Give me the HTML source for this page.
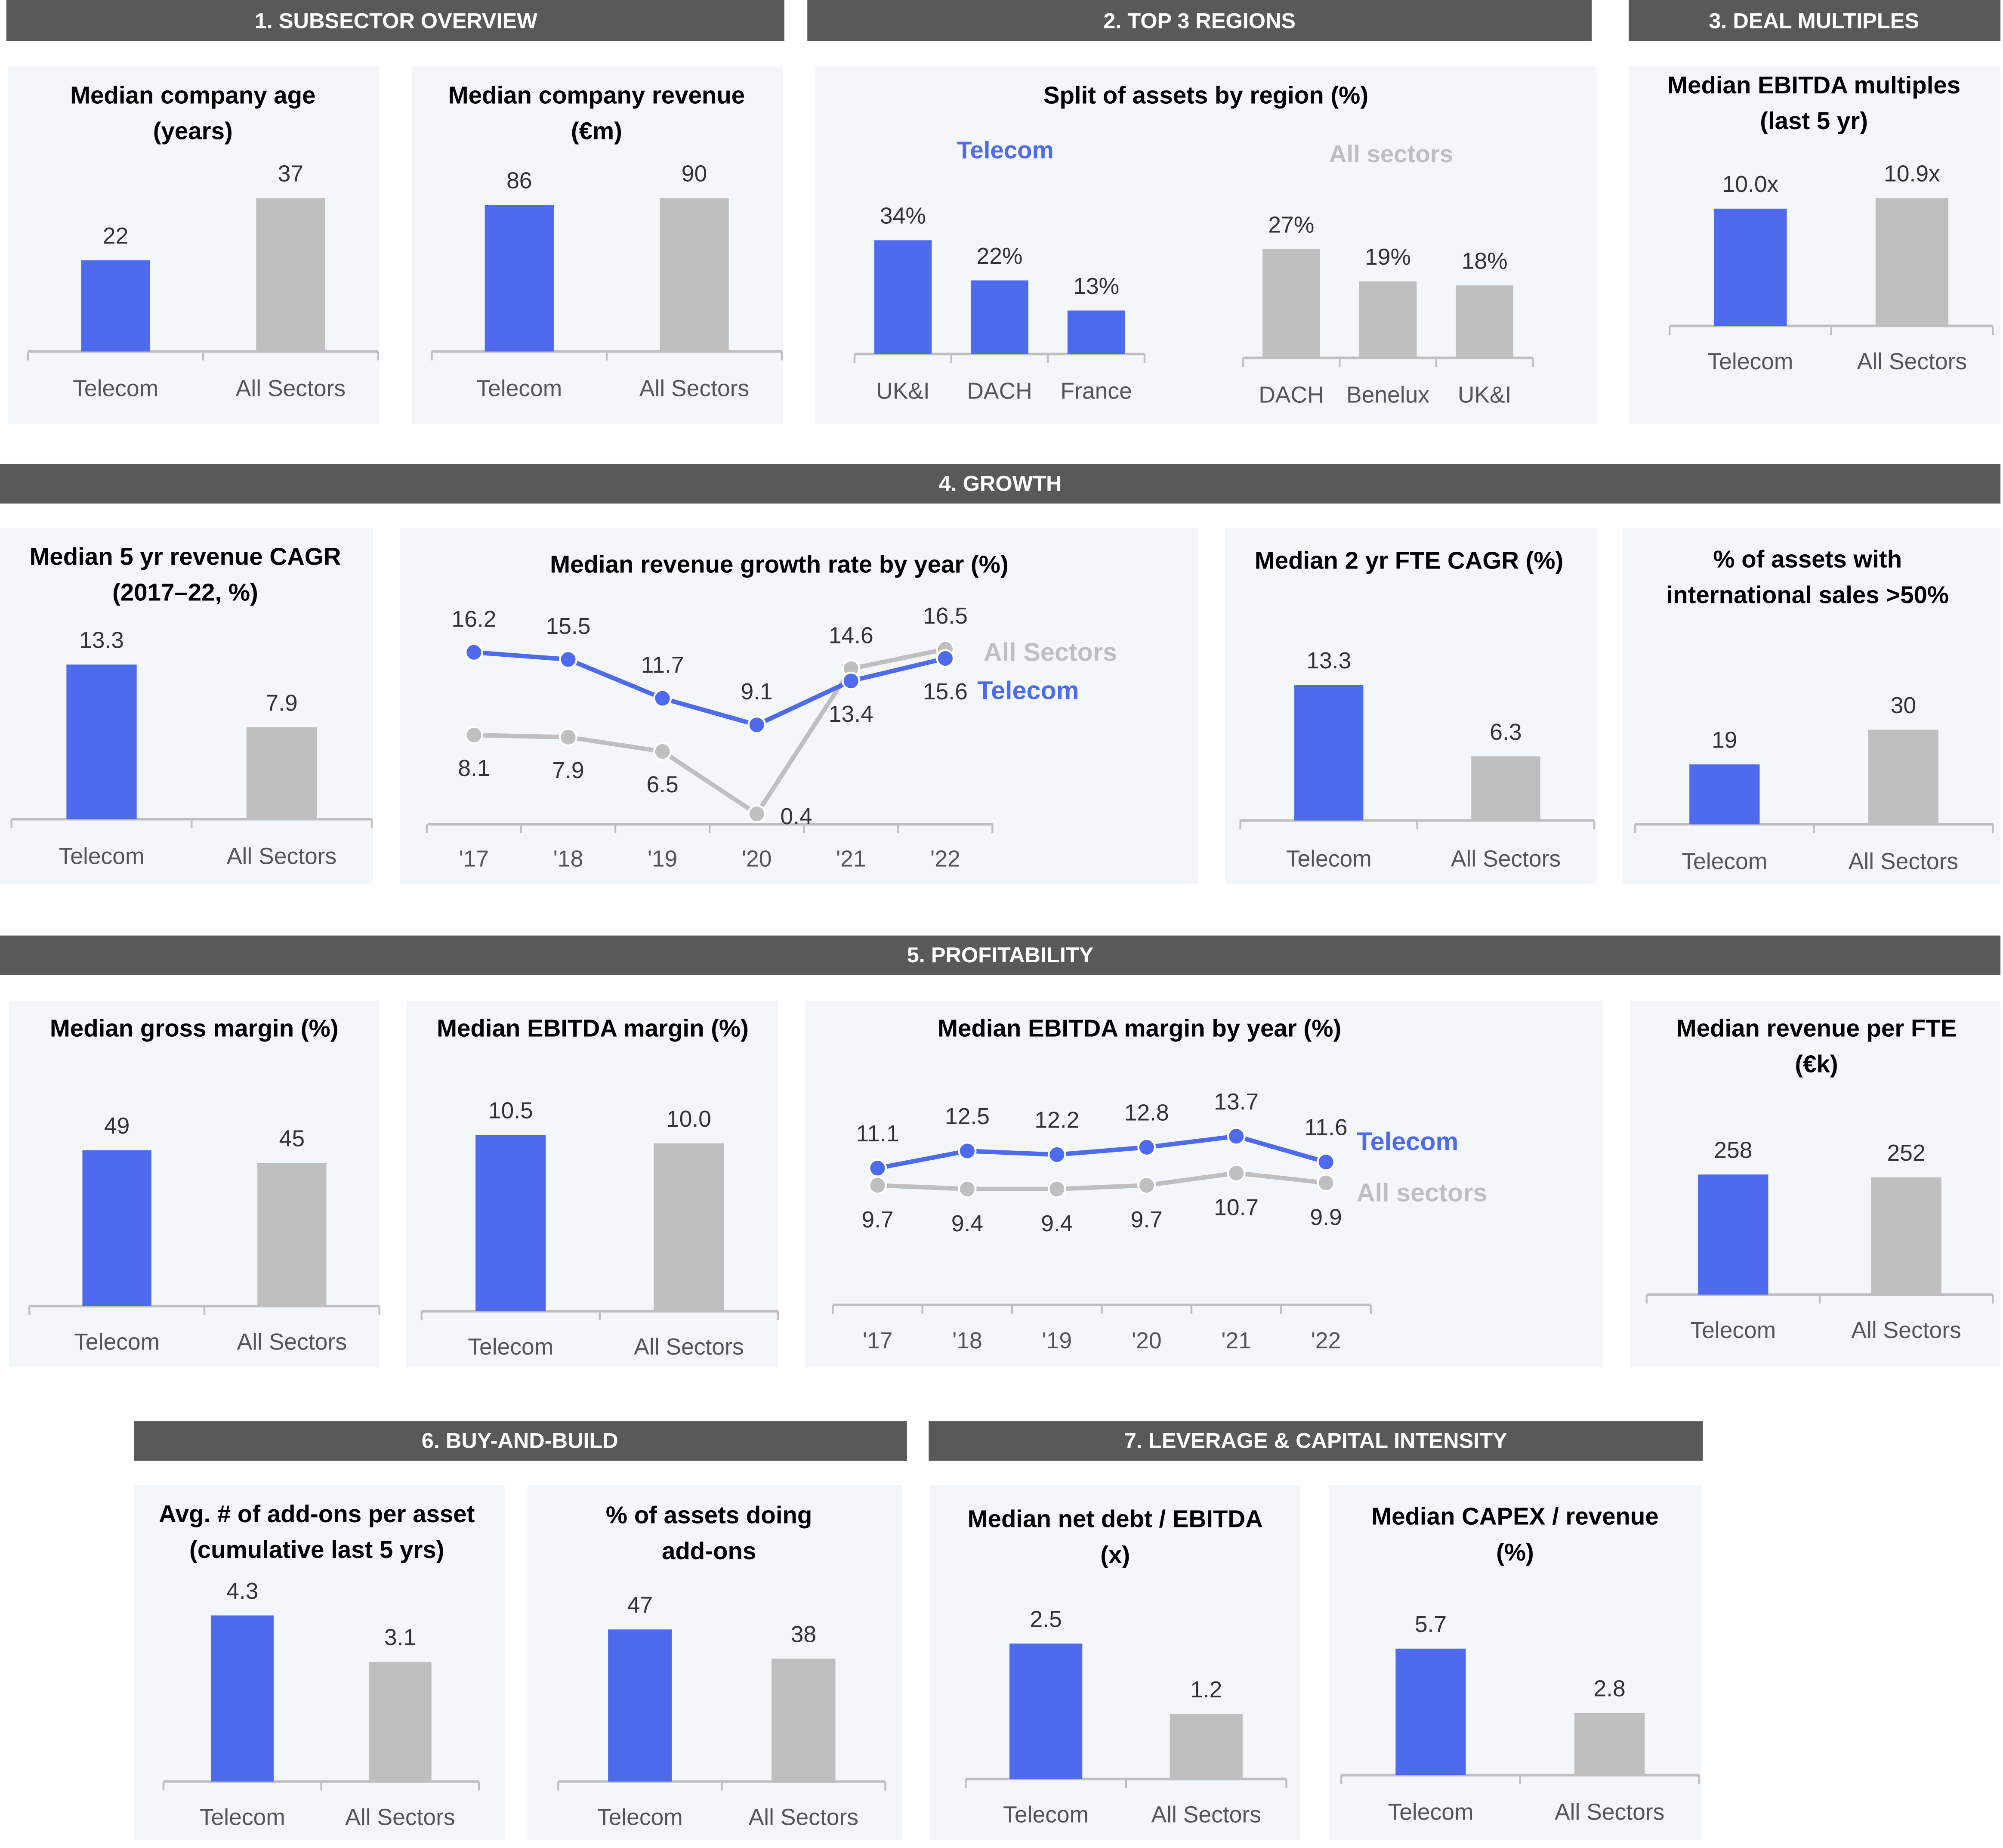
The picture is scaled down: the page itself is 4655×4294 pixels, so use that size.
<!DOCTYPE html>
<html><head><meta charset="utf-8"><style>
html,body{margin:0;padding:0;background:#fff;}
svg{display:block;font-family:"Liberation Sans",sans-serif;}
.t{font-weight:bold;font-size:19px;fill:#000;text-anchor:middle;}
.h{font-weight:bold;font-size:17px;fill:#fff;text-anchor:middle;}
.v{font-size:18px;fill:#333;text-anchor:middle;}
.c{font-size:18px;fill:#555;text-anchor:middle;}
</style></head><body>
<svg id="root" width="4655" height="4294" viewBox="0 0 1568 1446" preserveAspectRatio="none">
<g fill="#595959">
<rect x="5" y="0" width="609" height="32"/><rect x="632" y="0" width="614" height="32"/><rect x="1275" y="0" width="291" height="32"/>
<rect x="0" y="363" width="1566" height="31"/><rect x="0" y="732" width="1566" height="31"/>
<rect x="105" y="1112" width="605" height="31"/><rect x="727" y="1112" width="606" height="31"/>
</g>
<text class="h" x="310" y="22">1. SUBSECTOR OVERVIEW</text>
<text class="h" x="939" y="22">2. TOP 3 REGIONS</text>
<text class="h" x="1420" y="22">3. DEAL MULTIPLES</text>
<text class="h" x="783" y="384">4. GROWTH</text>
<text class="h" x="783" y="753">5.  PROFITABILITY</text>
<text class="h" x="407" y="1133">6. BUY-AND-BUILD</text>
<text class="h" x="1030" y="1133">7. LEVERAGE &amp; CAPITAL INTENSITY</text>
<g id="panels" fill="#f4f7f9">
<rect x="6" y="52" width="291" height="280"/><rect x="322" y="52" width="291" height="280"/><rect x="638" y="52" width="612" height="280"/><rect x="1275" y="52" width="291" height="280"/>
<rect x="0" y="413" width="292" height="279"/><rect x="313" y="413" width="625" height="279"/><rect x="959" y="413" width="291" height="279"/><rect x="1270" y="413" width="296" height="279"/>
<rect x="7" y="783" width="290" height="287"/><rect x="318" y="783" width="291" height="287"/><rect x="630" y="783" width="625" height="287"/><rect x="1276" y="783" width="290" height="287"/>
<rect x="105" y="1162" width="290" height="278"/><rect x="413" y="1162" width="293" height="278"/><rect x="728" y="1162" width="290" height="278"/><rect x="1040" y="1162" width="292" height="278"/>
</g>
<g id="titles">
<text class="t" x="151" y="81">Median company age</text><text class="t" x="151" y="109">(years)</text>
<text class="t" x="467" y="81">Median company revenue</text><text class="t" x="467" y="109">(€m)</text>
<text class="t" x="944" y="81">Split of assets by region (%)</text>
<text class="t" x="1420" y="73">Median EBITDA multiples</text><text class="t" x="1420" y="101">(last 5 yr)</text>
<text class="t" x="145" y="442">Median 5 yr revenue CAGR</text><text class="t" x="145" y="470">(2017–22, %)</text>
<text class="t" x="610" y="448">Median revenue growth rate by year (%)</text>
<text class="t" x="1103" y="445">Median 2 yr FTE CAGR (%)</text>
<text class="t" x="1415" y="444">% of assets with</text><text class="t" x="1415" y="472">international sales &gt;50%</text>
<text class="t" x="152" y="811">Median gross margin (%)</text>
<text class="t" x="464" y="811">Median EBITDA margin (%)</text>
<text class="t" x="892" y="811">Median EBITDA margin by year (%)</text>
<text class="t" x="1422" y="811">Median revenue per FTE</text><text class="t" x="1422" y="839">(€k)</text>
<text class="t" x="248" y="1191">Avg. # of add-ons per asset</text><text class="t" x="248" y="1219">(cumulative last 5 yrs)</text>
<text class="t" x="555" y="1192">% of assets doing</text><text class="t" x="555" y="1220">add-ons</text>
<text class="t" x="873" y="1195">Median net debt / EBITDA</text><text class="t" x="873" y="1223">(x)</text>
<text class="t" x="1186" y="1193">Median CAPEX / revenue</text><text class="t" x="1186" y="1221">(%)</text>
<text x="787" y="124" style="font-weight:bold;font-size:19px;fill:#4f6bed;text-anchor:middle">Telecom</text>
<text x="1089" y="127" style="font-weight:bold;font-size:19px;fill:#bfbfbf;text-anchor:middle">All sectors</text>
</g>
<g id="charts"></g>
</svg>
<script>
// ---- data ----
const ageCats=['Telecom','All Sectors']; const ageVals=[22,37];
const revCats=['Telecom','All Sectors']; const revVals=[86,90];
const regTelCats=['UK&I','DACH','France']; const regTelVals=[34,22,13];
const regAllCats=['DACH','Benelux','UK&I']; const regAllVals=[27,19,18];
const multCats=['Telecom','All Sectors']; const multVals=[10.0,10.9];
const cagrCats=['Telecom','All Sectors']; const cagrVals=[13.3,7.9];
const growthYears=["'17","'18","'19","'20","'21","'22"];
const growthTelecom=[16.2,15.5,11.7,9.1,13.4,15.6];
const growthAll=[8.1,7.9,6.5,0.4,14.6,16.5];
const fteCats=['Telecom','All Sectors']; const fteVals=[13.3,6.3];
const intlCats=['Telecom','All Sectors']; const intlVals=[19,30];
const gmCats=['Telecom','All Sectors']; const gmVals=[49,45];
const emCats=['Telecom','All Sectors']; const emVals=[10.5,10.0];
const emYears=["'17","'18","'19","'20","'21","'22"];
const emTelecom=[11.1,12.5,12.2,12.8,13.7,11.6];
const emAll=[9.7,9.4,9.4,9.7,10.7,9.9];
const rpfCats=['Telecom','All Sectors']; const rpfVals=[258,252];
const addCats=['Telecom','All Sectors']; const addVals=[4.3,3.1];
const pctAddCats=['Telecom','All Sectors']; const pctAddVals=[47,38];
const ndCats=['Telecom','All Sectors']; const ndVals=[2.5,1.2];
const capCats=['Telecom','All Sectors']; const capVals=[5.7,2.8];

const NS='http://www.w3.org/2000/svg';
const root=document.getElementById('charts');
function mk(p,tag,a,txt){const e=document.createElementNS(NS,tag);for(const k in a)e.setAttribute(k,a[k]);if(txt!=null)e.textContent=txt;p.appendChild(e);return e;}
const COLS=['#4f6bed','#bfbfbf'];
function barChart(name,cats,vals,cf){
  const g=mk(root,'g',{});
  
  
  const mx=Math.max(...vals), k=cf.maxH/mx;
  const ax=mk(g,'line',{x1:cf.a0,x2:cf.a1,y1:cf.base,y2:cf.base,stroke:'#bfbfbf','stroke-width':2});
  
  
  const step=(cf.a1-cf.a0)/cats.length;
  for(let i=0;i<=cats.length;i++){const t=mk(g,'line',{x1:cf.a0+i*step,x2:cf.a0+i*step,y1:cf.base,y2:cf.base+7,stroke:'#bfbfbf','stroke-width':1.5});
    
    }
  cats.forEach((c,i)=>{
    const cx=cf.a0+step*(i+0.5), h=vals[i]*k;
    const col=cf.color||COLS[i];
    const b=mk(g,'rect',{x:cx-cf.w/2,y:cf.base-h,width:cf.w,height:h,fill:col});
    
    
    const v=mk(g,'text',{class:'v',x:cx,y:cf.base-h-13},vals[i].toFixed(cf.dec||0)+(cf.suf||''));
    
    
    const l=mk(g,'text',{class:'c',x:cx,y:cf.catY},c);
    
    
  });
}
barChart('company-age-chart',ageCats,ageVals,{a0:22,a1:296,base:275,maxH:120,w:54,catY:310});
barChart('company-revenue-chart',revCats,revVals,{a0:338,a1:612,base:275,maxH:120,w:54,catY:310});
barChart('region-telecom-chart',regTelCats,regTelVals,{a0:669,a1:896,base:277,maxH:89,w:45,catY:312,suf:'%',color:'#4f6bed'});
barChart('region-all-chart',regAllCats,regAllVals,{a0:973,a1:1200,base:280,maxH:85,w:45,catY:315,suf:'%',color:'#bfbfbf'});
barChart('ebitda-multiples-chart',multCats,multVals,{a0:1307,a1:1560,base:255,maxH:100,w:57,catY:289,dec:1,suf:'x'});
barChart('revenue-cagr-chart',cagrCats,cagrVals,{a0:9,a1:291,base:641,maxH:121,w:55,catY:676,dec:1});
barChart('fte-cagr-chart',fteCats,fteVals,{a0:971,a1:1248,base:642,maxH:106,w:54,catY:678,dec:1});
barChart('international-sales-chart',intlCats,intlVals,{a0:1280,a1:1560,base:645,maxH:74,w:55,catY:680});
barChart('gross-margin-chart',gmCats,gmVals,{a0:23,a1:297,base:1022,maxH:122,w:54,catY:1056});
barChart('ebitda-margin-chart',emCats,emVals,{a0:330,a1:609,base:1026,maxH:138,w:55,catY:1060,dec:1});
barChart('revenue-per-fte-chart',rpfCats,rpfVals,{a0:1289,a1:1560,base:1013,maxH:94,w:55,catY:1047});
barChart('add-ons-chart',addCats,addVals,{a0:128,a1:375,base:1394,maxH:130,w:49,catY:1428,dec:1});
barChart('assets-add-ons-chart',pctAddCats,pctAddVals,{a0:437,a1:693,base:1394,maxH:119,w:50,catY:1428});
barChart('net-debt-chart',ndCats,ndVals,{a0:756,a1:1007,base:1392,maxH:106,w:57,catY:1426,dec:1});
barChart('capex-chart',capCats,capVals,{a0:1050,a1:1330,base:1389,maxH:99,w:55,catY:1424,dec:1});

function lineChart(name,years,tel,all,cf){
  const g=mk(root,'g',{});
  
  
  const X=i=>cf.x0+i*cf.dx, Y=v=>cf.y0-v*cf.k;
  const ax=mk(g,'line',{x1:cf.a0,x2:cf.a1,y1:cf.axY,y2:cf.axY,stroke:'#bfbfbf','stroke-width':2});
  
  
  for(let i=0;i<=years.length;i++){const x=cf.x0+(i-0.5)*cf.dx;const t=mk(g,'line',{x1:x,x2:x,y1:cf.axY,y2:cf.axY+7,stroke:'#bfbfbf','stroke-width':1.5});
    
    }
  years.forEach((y,i)=>{const l=mk(g,'text',{class:'c',x:X(i),y:cf.catY},y);
    
    });
  [[all,'#bfbfbf','all-sectors'],[tel,'#4f6bed','telecom']].forEach(([s,col,nm])=>{
    const p=mk(g,'polyline',{points:s.map((v,i)=>X(i)+','+Y(v)).join(' '),fill:'none',stroke:col,'stroke-width':3.5});
    
    
    s.forEach((v,i)=>{
      const c=mk(g,'circle',{cx:X(i),cy:Y(v),r:6.5,fill:col,stroke:'#fff','stroke-width':1.5});
      
      
      const other=(nm==='telecom'?all:tel)[i];
      const above=v>=other;
      let tx=X(i), ty=above?Y(v)-cf.off:Y(v)+cf.off+12;
      if(!above && ty>cf.axY-8){tx=X(i)+31; ty=Y(v)+8;}
      const t=mk(g,'text',{class:'v',x:tx,y:ty},v.toFixed(1));
      
      
    });
  });
  const lt=mk(g,'text',{x:cf.legX,y:cf.telY,style:'font-weight:bold;font-size:20px;fill:#4f6bed'},'Telecom');
  
  
  const la=mk(g,'text',{x:cf.legX2,y:cf.allY,style:'font-weight:bold;font-size:20px;fill:#bfbfbf'},cf.allName);
  
  
}
lineChart('revenue-growth-line-chart',growthYears,growthTelecom,growthAll,{x0:371,dx:73.8,y0:640,k:8,axY:645,a0:335,a1:777,catY:678,off:20,legX:765,legX2:770,telY:547,allY:517,allName:'All Sectors'});
lineChart('ebitda-margin-line-chart',emYears,emTelecom,emAll,{x0:687,dx:70.2,y0:1020.6,k:9.6,axY:1021,a0:652,a1:1073,catY:1055,off:21,legX:1062,legX2:1062,telY:900,allY:940,allName:'All sectors'});
</script>
</body></html>
